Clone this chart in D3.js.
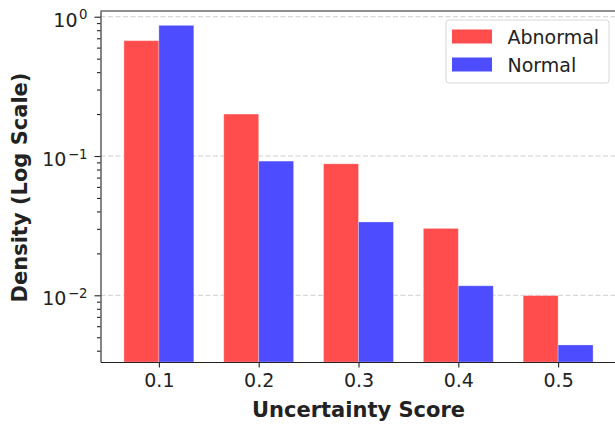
<!DOCTYPE html>
<html>
<head>
<meta charset="utf-8">
<script src="https://cdn.jsdelivr.net/npm/d3@7"></script>
<style>
  body { margin: 0; background: #fff; }
  text { font-family: "DejaVu Sans", sans-serif; fill: #222; }
</style>
</head>
<body>
<div id="chart"></div>
<script>
// data
var scores = [0.1, 0.2, 0.3, 0.4, 0.5];
var xTickLabels = ["0.1", "0.2", "0.3", "0.4", "0.5"];
var abnormal = [0.673, 0.200, 0.0879, 0.0302, 0.00995];
var normal = [0.867, 0.0919, 0.0336, 0.0117, 0.0044];
var yTickExps = [0, -1, -2];
var seriesNames = ["Abnormal", "Normal"];
var seriesColors = ["#ff4d4d", "#4d4dff"];

var W = 615, H = 424;
var barW = 0.035;

var svg = d3.select("#chart")
  .append("svg")
  .attr("width", W)
  .attr("height", H);

// scales
var x = d3.scaleLinear()
  .domain([0.0415, 0.5585])
  .range([100.5, 616.5]);

var y = d3.scaleLog()
  .domain([0.00332, 1.099])
  .range([362, 11]);

var plotLeft = x.range()[0], plotRight = x.range()[1];
var plotTop = y.range()[1], plotBottom = y.range()[0];

// grid lines at the decades
svg.append("g")
  .selectAll("line")
  .data(yTickExps)
  .enter()
  .append("line")
  .attr("x1", plotLeft)
  .attr("x2", plotRight)
  .attr("y1", function (d) { return y(Math.pow(10, d)); })
  .attr("y2", function (d) { return y(Math.pow(10, d)); })
  .attr("stroke", "#cfcfcf")
  .attr("stroke-width", 1)
  .attr("stroke-dasharray", "5,2.5");

// bars
var series = [abnormal, normal];
series.forEach(function (vals, si) {
  svg.append("g")
    .selectAll("rect")
    .data(vals)
    .enter()
    .append("rect")
    .attr("x", function (d, i) { return x(scores[i] - barW + si * barW); })
    .attr("width", function (d, i) { return x(scores[i] + barW) - x(scores[i]); })
    .attr("y", function (d) { return y(d); })
    .attr("height", function (d) { return plotBottom - y(d); })
    .attr("fill", seriesColors[si])
    .attr("stroke", "#fff")
    .attr("stroke-opacity", 0.35)
    .attr("stroke-width", 0.8);
});

// x axis
var xAxis = svg.append("g")
  .attr("transform", "translate(0," + plotBottom + ")")
  .call(d3.axisBottom(x)
    .tickValues(scores)
    .tickFormat(function (d, i) { return xTickLabels[i]; })
    .tickSize(5.5)
    .tickSizeOuter(0)
    .tickPadding(6));
xAxis.selectAll("text")
  .style("font-size", "19px")
  .attr("dy", "0.72em");

// y axis, minor ticks
var minor = [];
[-3, -2, -1].forEach(function (e) {
  for (var k = 2; k <= 9; k++) {
    var v = k * Math.pow(10, e);
    if (v >= y.domain()[0] && v <= y.domain()[1]) minor.push(v);
  }
});
svg.append("g")
  .attr("transform", "translate(" + plotLeft + ",0)")
  .call(d3.axisLeft(y).tickValues(minor).tickFormat("").tickSize(3.5).tickSizeOuter(0))
  .select(".domain").remove();

// y axis, major ticks with 10^n labels
var yAxis = svg.append("g")
  .attr("transform", "translate(" + plotLeft + ",0)")
  .call(d3.axisLeft(y)
    .tickValues(yTickExps.map(function (e) { return Math.pow(10, e); }))
    .tickFormat("")
    .tickSize(6)
    .tickSizeOuter(0));

yAxis.selectAll(".tick").each(function (d, i) {
  var t = d3.select(this).append("text")
    .attr("x", -13)
    .attr("y", 9.5)
    .attr("text-anchor", "end")
    .style("font-size", "19px")
    .attr("fill", "#222");
  t.append("tspan").text("10");
  t.append("tspan")
    .attr("dy", -7.5)
    .attr("dx", 1.5)
    .style("font-size", "13.3px")
    .text(yTickExps[i] === 0 ? "0" : "\u2212" + Math.abs(yTickExps[i]));
});

svg.selectAll(".domain, .tick line")
  .attr("stroke", "#222")
  .attr("stroke-width", 1.1);

// top and right spines
svg.append("line")
  .attr("x1", plotLeft).attr("x2", plotRight)
  .attr("y1", plotTop).attr("y2", plotTop)
  .attr("stroke", "#222").attr("stroke-width", 1.1);
svg.append("line")
  .attr("x1", plotRight).attr("x2", plotRight)
  .attr("y1", plotTop).attr("y2", plotBottom)
  .attr("stroke", "#222").attr("stroke-width", 1.1);

// axis labels
svg.append("text")
  .attr("x", (plotLeft + plotRight) / 2)
  .attr("y", 417)
  .attr("text-anchor", "middle")
  .style("font-size", "21px")
  .style("font-weight", "bold")
  .text("Uncertainty Score");

svg.append("text")
  .attr("transform", "translate(27," + ((plotTop + plotBottom) / 2 + 1) + ")rotate(-90)")
  .attr("text-anchor", "middle")
  .style("font-size", "21px")
  .style("font-weight", "bold")
  .text("Density (Log Scale)");

// legend
var lgW = 163, lgH = 63;
var lg = svg.append("g")
  .attr("transform", "translate(" + (plotRight - 7.5 - lgW) + "," + (plotTop + 9) + ")");
lg.append("rect")
  .attr("width", lgW)
  .attr("height", lgH)
  .attr("rx", 3)
  .attr("fill", "#fff")
  .attr("fill-opacity", 0.8)
  .attr("stroke", "#d8d8d8")
  .attr("stroke-width", 1);
seriesNames.forEach(function (name, i) {
  lg.append("rect")
    .attr("x", 6)
    .attr("y", 9.5 + i * 28)
    .attr("width", 40)
    .attr("height", 14)
    .attr("fill", seriesColors[i]);
  lg.append("text")
    .attr("x", 61.5)
    .attr("y", 23.5 + i * 28.5)
    .style("font-size", "19px")
    .text(name);
});
</script>
</body>
</html>
